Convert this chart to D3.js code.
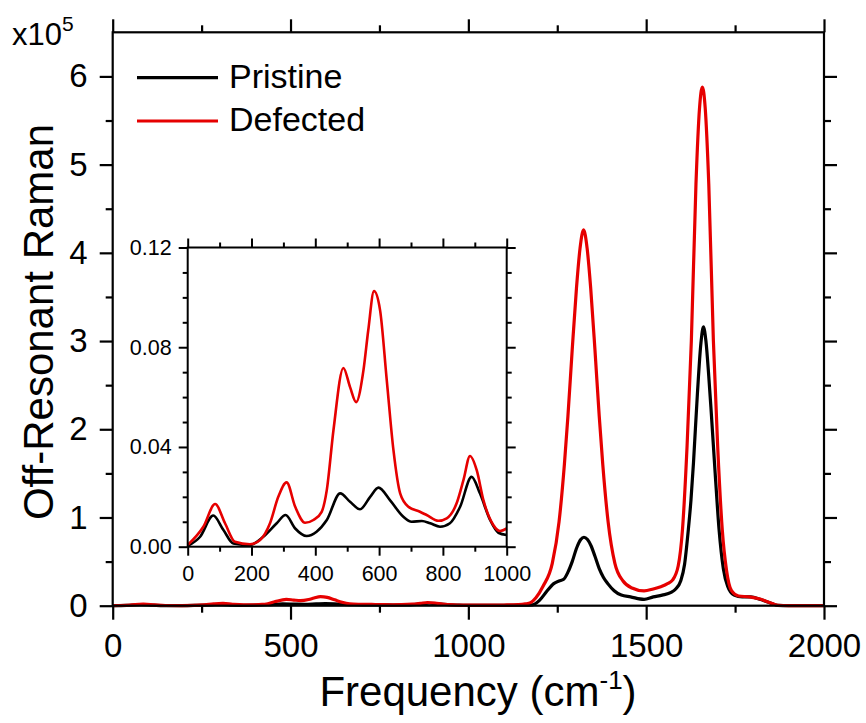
<!DOCTYPE html>
<html>
<head>
<meta charset="utf-8">
<script src="https://cdn.jsdelivr.net/npm/d3@7"></script>
<style>
  html, body { margin: 0; padding: 0; background: #fff; }
  svg { display: block; font-family: "Liberation Sans", Arial, sans-serif; }
</style>
</head>
<body>
<svg id="chart" width="866" height="723"></svg>
<script>
// ---------- data (intensity in units of 1e5) ----------
const seriesNames = ["Pristine", "Defected"];
const seriesColors = ["#000000", "#e60000"];

const freqPristine = [0,39,80,112,143,195,237,279,307,337,373,404,436,478,509,540,572,598,634,676,702,734,760,791,822,854,890,916,948,974,1000,1050,1100,1150,1180,1200,1220,1240,1255,1268,1280,1292,1305,1316,1325,1335,1345,1356,1368,1380,1392,1410,1430,1456,1494,1520,1545,1570,1583,1597,1608,1618,1626,1633,1644,1654,1661,1668,1676,1682,1694,1705,1717,1729,1747,1770,1794,1822,1851,1870,1900,2000];
const ramanPristine = [0.0003,0.004,0.0125,0.0067,0.0013,0.0007,0.004,0.0094,0.0127,0.0073,0.0043,0.006,0.0107,0.0214,0.018,0.015,0.02,0.0237,0.0187,0.012,0.01,0.0103,0.0094,0.008,0.0094,0.016,0.028,0.0214,0.0107,0.0056,0.0047,0.003,0.004,0.006,0.01,0.06,0.16,0.25,0.28,0.30,0.38,0.5,0.66,0.75,0.776,0.75,0.68,0.56,0.42,0.32,0.25,0.17,0.12,0.10,0.072,0.1,0.12,0.15,0.19,0.28,0.47,0.84,1.2,1.62,2.4,2.98,3.16,3.0,2.6,2.25,1.5,0.86,0.42,0.22,0.12,0.1,0.1,0.07,0.027,0.003,0,0];

const freqDefected = [0,49,86,117,148,195,227,258,284,310,337,368,394,420,436,457,488,509,528,551,566,584,603,624,645,666,692,728,749,786,812,843,865,885,906,927,958,979,1000,1050,1100,1140,1160,1175,1190,1210,1236,1255,1270,1280,1292,1304,1314,1324,1334,1344,1356,1368,1378,1393,1412,1435,1460,1494,1520,1541,1560,1574,1590,1602,1615,1627,1640,1650,1658,1666,1676,1689,1701,1714,1726,1740,1760,1790,1820,1850,1870,1900,2000];
const ramanDefected = [0.0007,0.008,0.0171,0.0094,0.002,0.001,0.0027,0.0094,0.02,0.0258,0.016,0.0096,0.0107,0.014,0.0227,0.0468,0.0717,0.064,0.058,0.0708,0.0868,0.1025,0.0949,0.0668,0.0387,0.0214,0.016,0.014,0.0127,0.0104,0.0114,0.0174,0.027,0.0364,0.0307,0.0187,0.0087,0.0063,0.0073,0.006,0.008,0.012,0.02,0.035,0.09,0.22,0.48,0.95,1.6,2.15,2.9,3.6,4.05,4.26,4.05,3.6,2.9,2.15,1.6,0.95,0.48,0.28,0.2,0.167,0.19,0.216,0.25,0.29,0.45,0.86,1.81,3.0,4.78,5.64,5.88,5.64,4.78,3.0,1.81,0.86,0.4,0.17,0.11,0.1,0.075,0.03,0.005,0,0];

// axis ticks
const mainXTicks = [0, 500, 1000, 1500, 2000];
const mainXMinor = [250, 750, 1250, 1750];
const mainYTicks = [0, 1, 2, 3, 4, 5, 6];
const mainYMinor = [0.5, 1.5, 2.5, 3.5, 4.5, 5.5];
const insetXTicks = [0, 200, 400, 600, 800, 1000];
const insetXMinor = [100, 300, 500, 700, 900];
const insetYTicks = [0, 0.04, 0.08, 0.12];
const insetYMinor = [0.01, 0.02, 0.03, 0.05, 0.06, 0.07, 0.09, 0.10, 0.11];

const series = [
  { name: seriesNames[0], color: seriesColors[0], pts: freqPristine.map((f, i) => [f, ramanPristine[i]]) },
  { name: seriesNames[1], color: seriesColors[1], pts: freqDefected.map((f, i) => [f, ramanDefected[i]]) }
];

// ---------- layout ----------
const svg = d3.select("#chart");
const M = { left: 112.7, right: 824, top: 32.3, bottom: 605.7 };
const I = { left: 187.7, right: 506.7, top: 247.5, bottom: 546.7 };

const x = d3.scaleLinear().domain([0, 2000]).range([M.left, M.right]);
const y = d3.scaleLinear().domain([0, 6.5]).range([M.bottom, M.top]);
const xi = d3.scaleLinear().domain([0, 1000]).range([I.left, I.right]);
const yi = d3.scaleLinear().domain([0, 0.12]).range([I.bottom, I.top]);

function styleAxis(g, width, fontSize) {
  g.select(".domain").remove();
  g.selectAll("line").attr("stroke", "#000").attr("stroke-width", width);
  g.selectAll("text").attr("fill", "#000").style("font-size", fontSize + "px")
    .style("font-family", '"Liberation Sans", Arial, sans-serif');
}

// ---------- main curves ----------
const line = d3.line().x(d => x(d[0])).y(d => y(d[1])).curve(d3.curveMonotoneX);
series.forEach(s => {
  svg.append("path").datum(s.pts).attr("d", line)
    .attr("fill", "none").attr("stroke", s.color).attr("stroke-width", 3.2)
    .attr("stroke-linejoin", "round");
});

// main axes
const mw = 2.2, mfs = 33;
svg.append("g").attr("transform", `translate(0,${M.bottom})`)
  .call(d3.axisBottom(x).tickValues(mainXTicks).tickSize(14).tickPadding(14).tickFormat(d3.format("d")))
  .call(g => styleAxis(g, mw, mfs));
svg.append("g").attr("transform", `translate(0,${M.bottom})`)
  .call(d3.axisBottom(x).tickValues(mainXMinor).tickSize(7).tickFormat(""))
  .call(g => styleAxis(g, mw, mfs));
svg.append("g").attr("transform", `translate(0,${M.top})`)
  .call(d3.axisTop(x).tickValues(mainXTicks).tickSize(13).tickFormat(""))
  .call(g => styleAxis(g, mw, mfs));
svg.append("g").attr("transform", `translate(0,${M.top})`)
  .call(d3.axisTop(x).tickValues(mainXMinor).tickSize(7).tickFormat(""))
  .call(g => styleAxis(g, mw, mfs));
svg.append("g").attr("transform", `translate(${M.left},0)`)
  .call(d3.axisLeft(y).tickValues(mainYTicks).tickSize(13).tickPadding(12).tickFormat(d3.format("d")))
  .call(g => styleAxis(g, mw, mfs));
svg.append("g").attr("transform", `translate(${M.left},0)`)
  .call(d3.axisLeft(y).tickValues(mainYMinor).tickSize(7).tickFormat(""))
  .call(g => styleAxis(g, mw, mfs));
svg.append("g").attr("transform", `translate(${M.right},0)`)
  .call(d3.axisRight(y).tickValues(mainYTicks).tickSize(13).tickFormat(""))
  .call(g => styleAxis(g, mw, mfs));
svg.append("g").attr("transform", `translate(${M.right},0)`)
  .call(d3.axisRight(y).tickValues(mainYMinor).tickSize(7).tickFormat(""))
  .call(g => styleAxis(g, mw, mfs));
svg.append("rect").attr("x", M.left).attr("y", M.top)
  .attr("width", M.right - M.left).attr("height", M.bottom - M.top)
  .attr("fill", "none").attr("stroke", "#000").attr("stroke-width", mw);

// multiplier label
const mult = svg.append("text").attr("x", 12).attr("y", 45).attr("fill", "#000").style("font-size", "31px");
mult.append("tspan").text("x10");
mult.append("tspan").attr("dy", -14).style("font-size", "21px").text("5");

// axis titles
const xt = svg.append("text").attr("x", 478).attr("y", 706)
  .attr("text-anchor", "middle").attr("fill", "#000").style("font-size", "42px");
xt.append("tspan").text("Frequency (cm");
xt.append("tspan").attr("dy", -17).style("font-size", "26px").text("-1");
xt.append("tspan").attr("dy", 17).text(")");

svg.append("text").attr("transform", `translate(53,${(M.top + M.bottom) / 2 + 3}) rotate(-90)`)
  .attr("text-anchor", "middle").attr("fill", "#000").style("font-size", "42px")
  .text("Off-Resonant Raman");

// legend
const legY = [77.7, 121];
series.forEach((s, i) => {
  svg.append("line").attr("x1", 137).attr("x2", 218).attr("y1", legY[i]).attr("y2", legY[i])
    .attr("stroke", s.color).attr("stroke-width", 3.2);
  svg.append("text").attr("x", 229).attr("y", legY[i] + 10).attr("fill", "#000")
    .style("font-size", "34px").text(s.name);
});

// ---------- inset ----------
svg.append("rect").attr("x", I.left).attr("y", I.top)
  .attr("width", I.right - I.left).attr("height", I.bottom - I.top).attr("fill", "#fff");
const lineI = d3.line().x(d => xi(d[0])).y(d => yi(d[1])).curve(d3.curveMonotoneX);
series.forEach(s => {
  svg.append("path").datum(s.pts.filter(p => p[0] <= 1000)).attr("d", lineI)
    .attr("fill", "none").attr("stroke", s.color).attr("stroke-width", 2.6)
    .attr("stroke-linejoin", "round");
});
const iw = 2, ifs = 21.5;
svg.append("g").attr("transform", `translate(0,${I.bottom})`)
  .call(d3.axisBottom(xi).tickValues(insetXTicks).tickSize(9).tickPadding(10).tickFormat(d3.format("d")))
  .call(g => styleAxis(g, iw, ifs));
svg.append("g").attr("transform", `translate(0,${I.bottom})`)
  .call(d3.axisBottom(xi).tickValues(insetXMinor).tickSize(5).tickFormat(""))
  .call(g => styleAxis(g, iw, ifs));
svg.append("g").attr("transform", `translate(0,${I.top})`)
  .call(d3.axisTop(xi).tickValues(insetXTicks).tickSize(9).tickFormat(""))
  .call(g => styleAxis(g, iw, ifs));
svg.append("g").attr("transform", `translate(0,${I.top})`)
  .call(d3.axisTop(xi).tickValues(insetXMinor).tickSize(5).tickFormat(""))
  .call(g => styleAxis(g, iw, ifs));
svg.append("g").attr("transform", `translate(${I.left},0)`)
  .call(d3.axisLeft(yi).tickValues(insetYTicks).tickSize(9).tickPadding(7).tickFormat(d3.format(".2f")))
  .call(g => styleAxis(g, iw, ifs));
svg.append("g").attr("transform", `translate(${I.left},0)`)
  .call(d3.axisLeft(yi).tickValues(insetYMinor).tickSize(5).tickFormat(""))
  .call(g => styleAxis(g, iw, ifs));
svg.append("g").attr("transform", `translate(${I.right},0)`)
  .call(d3.axisRight(yi).tickValues(insetYTicks).tickSize(9).tickFormat(""))
  .call(g => styleAxis(g, iw, ifs));
svg.append("g").attr("transform", `translate(${I.right},0)`)
  .call(d3.axisRight(yi).tickValues(insetYMinor).tickSize(5).tickFormat(""))
  .call(g => styleAxis(g, iw, ifs));
svg.append("rect").attr("x", I.left).attr("y", I.top)
  .attr("width", I.right - I.left).attr("height", I.bottom - I.top)
  .attr("fill", "none").attr("stroke", "#000").attr("stroke-width", iw);
</script>
</body>
</html>
